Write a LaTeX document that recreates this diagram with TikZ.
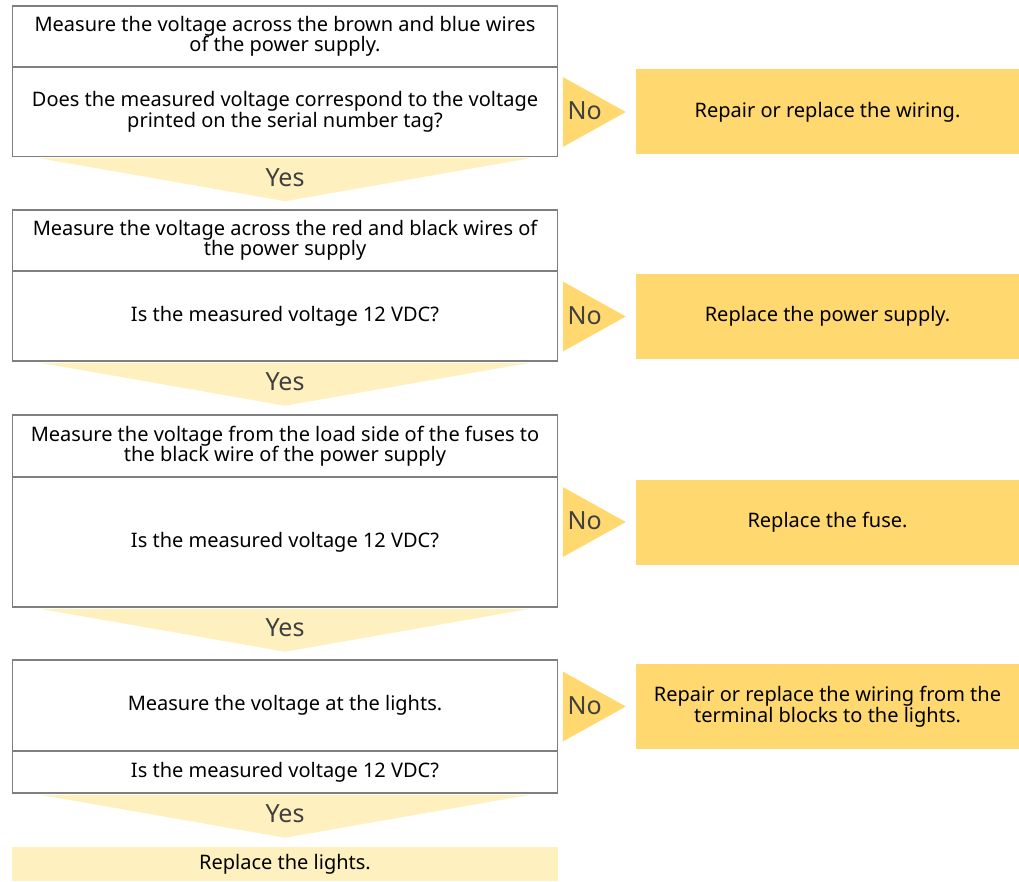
\documentclass[tikz,border=0pt]{standalone}
\usepackage{fontspec}
\setmainfont{Noto Sans}
\usetikzlibrary{calc}
\definecolor{Frame}{HTML}{7F7F7F}
\definecolor{Gold}{HTML}{FFD970}
\definecolor{Cream}{HTML}{FFF1BF}
\definecolor{Label}{HTML}{404040}

\begin{document}
\begin{tikzpicture}[x=1pt,y=-1pt,
  cell/.style={draw=Frame,line width=1.5pt,minimum width=545pt,inner sep=0pt,align=center,font=\fontsize{20}{20.5}\selectfont},
  fix/.style={fill=Gold,minimum width=383pt,minimum height=85pt,inner sep=0pt,align=center,font=\fontsize{20}{20.5}\selectfont},
  tag/.style={text=Label,font=\fontsize{25}{27}\selectfont}]
  \useasboundingbox (0,0) rectangle (1019,882);
  \node[cell,minimum height=61pt] (t1) at (285,36.5) {Measure the voltage across the brown and blue wires\\of the power supply.};
  \node[cell,minimum height=89pt] (q1) at (285,112) {Does the measured voltage correspond to the voltage\\printed on the serial number tag?};
  \node[cell,minimum height=61pt] (t2) at (285,240.5) {Measure the voltage across the red and black wires of\\the power supply};
  \node[cell,minimum height=90pt] (q2) at (285,316) {Is the measured voltage 12 VDC?};
  \node[cell,minimum height=62pt] (t3) at (285,446) {Measure the voltage from the load side of the fuses to\\the black wire of the power supply};
  \node[cell,minimum height=130pt] (q3) at (285,542) {Is the measured voltage 12 VDC?};
  \node[cell,minimum height=91pt] (t4) at (285,705.5) {Measure the voltage at the lights.};
  \node[cell,minimum height=42pt] (q4) at (285,772) {Is the measured voltage 12 VDC?};
  \node[cell,draw=none,fill=Cream,minimum width=546pt,minimum height=34pt] (fin) at (285,864) {Replace the lights.};
  \node[fix] (a1) at (827.5,112) {Repair or replace the wiring.};
  \node[fix] (a2) at (827.5,316.5) {Replace the power supply.};
  \node[fix] (a3) at (827.5,522) {Replace the fuse.};
  \node[fix] (a4) at (827.5,706.5) {Repair or replace the wiring from the\\terminal blocks to the lights.};
  \foreach \q in {1,2,3,4}{
    \fill[Cream] ($(q\q.south west)+(28,1)$) -- ($(q\q.south east)+(-28,1)$) -- ($(q\q.south)+(0,44)$) -- cycle;
    \node[tag] (y\q) at ($(q\q.south)+(0,20)$) {Yes};
    \fill[Gold] ($(a\q.west)+(-73,-35)$) -- ($(a\q.west)+(-73,35)$) -- ($(a\q.west)+(-10,0)$) -- cycle;
    \node[tag] (n\q) at ($(a\q.west)+(-51,-1)$) {No};
  }
\end{tikzpicture}
\end{document}
